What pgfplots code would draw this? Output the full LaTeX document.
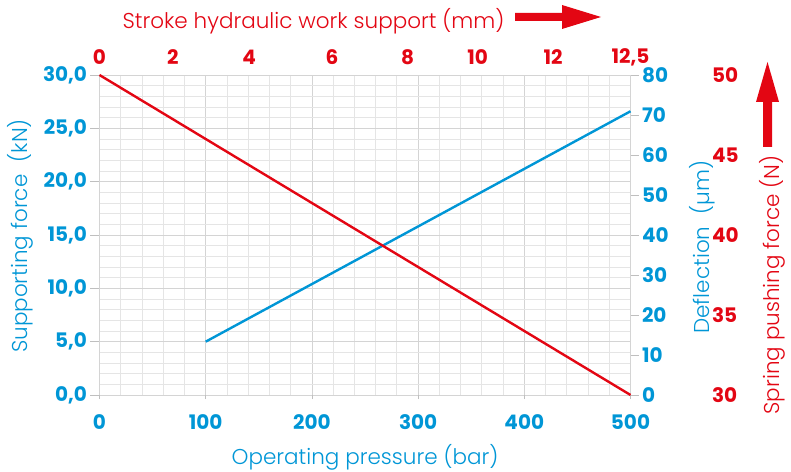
\documentclass[border=0pt]{standalone}
\usepackage{pgfplots}
\pgfplotsset{compat=1.18}
\usepackage{fontspec}
\IfFontExistsTF{Poppins Light}{\setmainfont{Poppins Light}[BoldFont=Poppins Bold]}{\setmainfont{Poppins}}
\definecolor{cblue}{RGB}{0,150,214}
\definecolor{cred}{RGB}{227,6,19}
\newcommand{\tickfont}{\bfseries\fontsize{20}{20}\selectfont}
\newcommand{\labfont}{\fontsize{21.5}{21.5}\selectfont}
\pgfplotsset{base/.style={scale only axis, width=531pt, height=320pt, xmin=0, xmax=500, clip=false}}
\begin{document}
\begin{tikzpicture}[x=1pt,y=1pt]
% grid and data
\begin{axis}[base, ymin=0, ymax=30,
  xtick={0,100,...,500}, ytick={0,5,...,30},
  minor x tick num=4, minor y tick num=4,
  grid=both,
  major grid style={draw=black!17, line width=0.8pt},
  minor grid style={draw=black!10, line width=0.8pt},
  xticklabels={}, yticklabels={},
  major tick length=0pt, minor tick length=0pt,
  axis line style={draw=black!17, line width=0.8pt}]
\addplot[cblue, line width=2.4pt] coordinates {(100,5) (500,26.6)};
\end{axis}
% bottom axis
\begin{axis}[base, ymin=0, ymax=30,
  axis x line*=bottom, axis y line=none,
  xtick={0,100,...,500}, xticklabels={0,100,200,300,400,500},
  tick align=outside, major tick length=4pt, minor tick num=0,
  tick style={draw=black!25, line width=0.8pt},
  axis line style={draw=none},
  xticklabel style={text=cblue, font=\tickfont, anchor=center, yshift=-23pt},
  xlabel={Operating pressure (bar)},
  xlabel style={at={(axis description cs:0.5,-0.194)}, anchor=center, text=cblue, font=\labfont}]
\end{axis}
% left axis
\begin{axis}[base, ymin=0, ymax=30,
  axis y line*=left, axis x line=none,
  ytick={0,5,...,30}, yticklabels={{0,0},{5,0},{10,0},{15,0},{20,0},{25,0},{30,0}},
  tick align=outside, major tick length=9pt, minor tick num=0,
  tick style={draw=black!25, line width=0.8pt},
  axis line style={draw=none},
  yticklabel style={text=cblue, font=\tickfont, anchor=east},
  ylabel={Supporting force\hspace{0.3em} (kN)},
  ylabel style={at={(axis description cs:-0.15,0.497)}, anchor=center, rotate=0, text=cblue, font=\labfont}]
\end{axis}
% right deflection axis
\begin{axis}[base, ymin=0, ymax=80,
  axis y line*=right, axis x line=none,
  ytick={0,10,...,80}, yticklabels={0,10,20,30,40,50,60,70,80},
  tick align=outside, major tick length=8pt, minor tick num=0,
  tick style={draw=black!25, line width=0.8pt},
  axis line style={draw=none},
  yticklabel style={text=cblue, font=\tickfont, anchor=west},
  ylabel={Deflection\hspace{0.3em} (µm)},
  ylabel style={at={(axis description cs:1.135,0.4625)}, anchor=center, rotate=0, text=cblue, font=\labfont}]
\end{axis}
% right spring axis + red line
\begin{axis}[base, ymin=30, ymax=50,
  axis y line*=right, axis x line=none,
  ytick={30,35,...,50}, yticklabels={30,35,40,45,50},
  major tick length=0pt, minor tick num=0,
  axis line style={draw=none},
  yticklabel style={text=cred, font=\tickfont, anchor=west, xshift=78pt},
  ylabel={Spring pushing force (N)},
  ylabel style={at={(axis description cs:1.2665,0.344)}, anchor=center, rotate=0, text=cred, font=\labfont}]
\addplot[cred, line width=2.4pt] coordinates {(0,50) (500,30)};
\end{axis}
% top axis
\begin{axis}[base, ymin=0, ymax=30,
  axis x line*=top, axis y line=none,
  xtick={0,69,141,219,290,356,427,500}, xticklabels={0,2,4,6,8,10,12,{12,5}},
  major tick length=0pt, minor tick num=0,
  axis line style={draw=none},
  xticklabel style={text=cred, font=\tickfont, anchor=center, yshift=18pt},
  xlabel={Stroke hydraulic work support (mm)},
  xlabel style={at={(axis description cs:0.403,1.169)}, anchor=center, text=cred, font=\labfont}]
\end{axis}
% decorative arrows
\fill[cred] (415.5pt,382pt) -- (462.5pt,382pt) -- (462.5pt,390pt) -- (501.5pt,378pt) -- (462.5pt,366pt) -- (462.5pt,374pt) -- (415.5pt,374pt) -- cycle;
\fill[cred] (663.5pt,248pt) -- (663.5pt,293pt) -- (656.5pt,293pt) -- (668pt,333pt) -- (679.5pt,293pt) -- (672.5pt,293pt) -- (672.5pt,248pt) -- cycle;
\pgfresetboundingbox
\path[use as bounding box] (-99.5pt,-76pt) rectangle (691.5pt,395pt);
\end{tikzpicture}
\end{document}
